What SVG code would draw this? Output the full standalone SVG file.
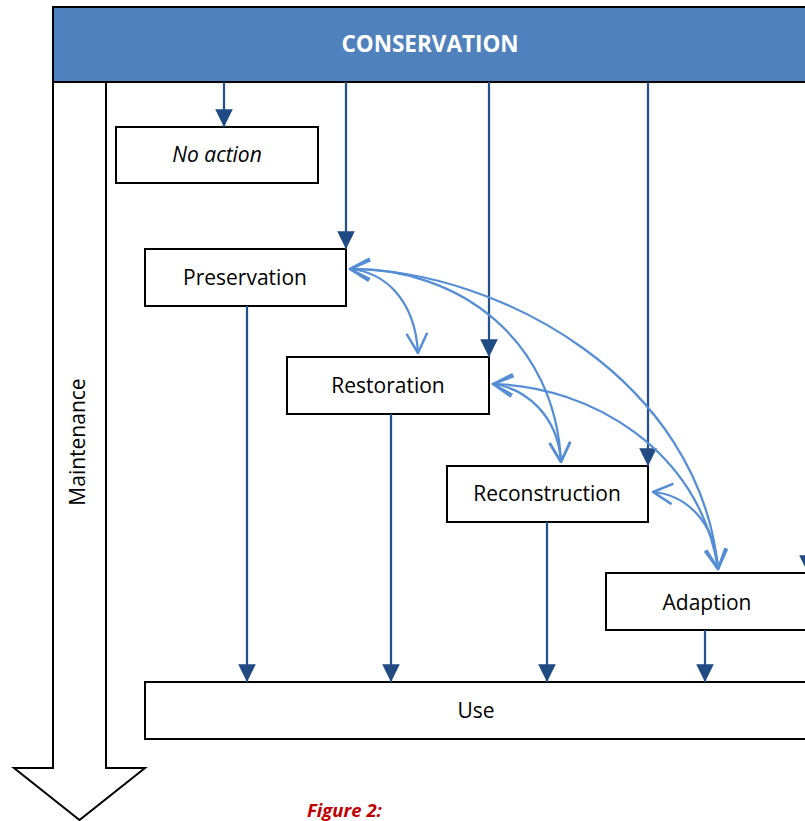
<svg xmlns="http://www.w3.org/2000/svg" width="805" height="821" viewBox="0 0 805 821">
<style>
.box{fill:#fff;stroke:#000;stroke-width:2}
.lbl{font-family:"Open Sans","Liberation Sans",sans-serif;font-size:21px;fill:#000;text-anchor:middle}
.flow{fill:none;stroke:#24508C;stroke-width:2.25;marker-end:url(#solid)}
.link{fill:none;stroke:#558ED5;stroke-width:2.25;marker-start:url(#open);marker-end:url(#open)}
</style>
<defs>
<marker id="solid" markerUnits="userSpaceOnUse" markerWidth="20" markerHeight="20" viewBox="-16 -8 17 16" refX="0" refY="0" orient="auto" overflow="visible">
<path d="M0,0 L-15,-7.5 L-15,7.5 Z" fill="#1F4A82"/>
</marker>
<marker id="open" markerUnits="userSpaceOnUse" markerWidth="24" markerHeight="24" viewBox="-20 -11 22 22" refX="0" refY="0" orient="auto-start-reverse" overflow="visible">
<path d="M-18,-9.5 L0,0 L-18,9.5" fill="none" stroke="#558ED5" stroke-width="2.25" stroke-linejoin="round"/>
</marker>
</defs>
<g id="maintenance">
<polygon points="53,82 53,768 14,768 79.5,820 145,768 106,768 106,82" fill="#fff" stroke="#000" stroke-width="2"/>
<text class="lbl" transform="translate(85,442) rotate(-90)">Maintenance</text>
</g>
<g id="conservation">
<rect x="53" y="7" width="800" height="75" fill="#4F81BD" stroke="#000" stroke-width="2"/>
<text class="lbl" x="430" y="52" style="fill:#fff;font-weight:bold;font-size:22.5px">CONSERVATION</text>
</g>
<g id="no-action">
<rect class="box" x="116" y="127" width="202" height="56"/>
<text class="lbl" x="217" y="162" font-style="italic">No action</text>
</g>
<g id="preservation">
<rect class="box" x="145" y="249" width="201" height="57"/>
<text class="lbl" x="245" y="284.5">Preservation</text>
</g>
<g id="restoration">
<rect class="box" x="287" y="357" width="202" height="57"/>
<text class="lbl" x="388" y="392.5">Restoration</text>
</g>
<g id="reconstruction">
<rect class="box" x="447" y="466" width="201" height="56"/>
<text class="lbl" x="547" y="500.5">Reconstruction</text>
</g>
<g id="adaption">
<rect class="box" x="606" y="573" width="202" height="57"/>
<text class="lbl" x="707" y="610">Adaption</text>
</g>
<g id="use">
<rect class="box" x="145" y="682" width="662" height="57"/>
<text class="lbl" x="476" y="717.5">Use</text>
</g>
<g id="connectors">
<line class="flow" x1="224" y1="82" x2="224" y2="127"/>
<line class="flow" x1="346" y1="82" x2="346" y2="249"/>
<line class="flow" x1="489" y1="82" x2="489" y2="357"/>
<line class="flow" x1="648" y1="82" x2="648" y2="466"/>
<line class="flow" x1="808" y1="82" x2="808" y2="573"/>
<line class="flow" x1="247" y1="306" x2="247" y2="682"/>
<line class="flow" x1="391" y1="414" x2="391" y2="682"/>
<line class="flow" x1="547" y1="522" x2="547" y2="682"/>
<line class="flow" x1="705" y1="630" x2="705" y2="682"/>
<path class="link" d="M350,269 C385,272 415,300 418,353"/>
<path class="link" d="M350,269 C460,268 555,340 561,462"/>
<path class="link" d="M350,269 C500,270 700,380 718,569"/>
<path class="link" d="M493,384 C525,388 558,415 561,462"/>
<path class="link" d="M493,384 C590,386 700,450 718,569"/>
<path class="link" d="M653,492 C685,495 715,520 718,569"/>
</g>
<text x="307" y="817" font-family="Open Sans,Liberation Sans,sans-serif" font-size="18.5" font-weight="bold" font-style="italic" fill="#C00000">Figure 2:</text>
</svg>
